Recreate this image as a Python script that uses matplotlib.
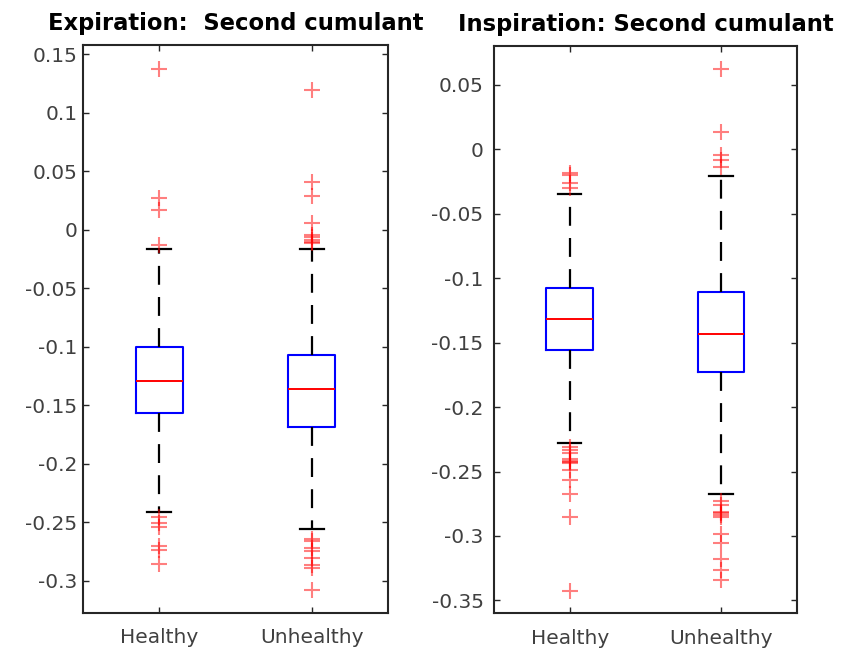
import matplotlib
matplotlib.use("Agg")
import matplotlib.pyplot as plt
import numpy as np

# ---------------- data ----------------
categories = ["Healthy", "Unhealthy"]
titles = ["Expiration:  Second cumulant", "Inspiration: Second cumulant"]

# Expiration
exp_med = [-0.129, -0.1362]
exp_q1 = [-0.157, -0.1684]
exp_q3 = [-0.1006, -0.1074]
exp_whislo = [-0.2416, -0.2558]
exp_whishi = [-0.0165, -0.0165]
exp_fliers_healthy = [0.1373, 0.0271, 0.0171, -0.0128,
                      -0.2456, -0.2507, -0.2541, -0.2707, -0.2741, -0.2855]
exp_fliers_unhealthy = [0.1197, 0.0413, 0.029, 0.0057, -0.0043, -0.0065,
                        -0.0085, -0.0105, -0.0114,
                        -0.2644, -0.2664, -0.2721, -0.275, -0.2806, -0.2863,
                        -0.2892, -0.3077]

# Inspiration
insp_med = [-0.1319, -0.1433]
insp_q1 = [-0.1557, -0.1725]
insp_q3 = [-0.1079, -0.1105]
insp_whislo = [-0.228, -0.2674]
insp_whishi = [-0.0347, -0.0205]
insp_fliers_healthy = [-0.0186, -0.02, -0.0259, -0.0303,
                       -0.2307, -0.2333, -0.2359, -0.2405, -0.2415, -0.2425,
                       -0.2436, -0.2488, -0.2566, -0.2674, -0.2855, -0.3424]
insp_fliers_unhealthy = [0.062, 0.0137, -0.0044, -0.0083, -0.0135,
                         -0.2726, -0.276, -0.2811, -0.2825, -0.2838, -0.285,
                         -0.2985, -0.3052, -0.3178, -0.3264, -0.3341]

exp_yticks = [-0.3, -0.25, -0.2, -0.15, -0.1, -0.05, 0, 0.05, 0.1, 0.15]
insp_yticks = [-0.35, -0.3, -0.25, -0.2, -0.15, -0.1, -0.05, 0, 0.05]

plt.rcParams["font.family"] = ["DejaVu Sans"]
tick_fs = 14.5
title_fs = 16.3
AX_COLOR = "#262626"
TICK_TEXT = "#404040"


def make_stats(med, q1, q3, lo, hi, fliers_list):
    stats = []
    for i in range(len(med)):
        stats.append(dict(med=med[i], q1=q1[i], q3=q3[i], whislo=lo[i],
                          whishi=hi[i], fliers=np.array(fliers_list[i]),
                          label=categories[i]))
    return stats


fig = plt.figure(figsize=(8.42, 6.52), dpi=100)
ax1 = fig.add_axes([83 / 842, 1 - 613 / 652, 305 / 842, 568 / 652])
ax2 = fig.add_axes([494 / 842, 1 - 613.3 / 652, 302.7 / 842, 567.3 / 652])

panels = [
    (ax1, make_stats(exp_med, exp_q1, exp_q3, exp_whislo, exp_whishi,
                     [exp_fliers_healthy, exp_fliers_unhealthy]),
     titles[0], exp_yticks, (-0.3276, 0.158), 4),
    (ax2, make_stats(insp_med, insp_q1, insp_q3, insp_whislo, insp_whishi,
                     [insp_fliers_healthy, insp_fliers_unhealthy]),
     titles[1], insp_yticks, (-0.36, 0.0801), 7.5),
]

for ax, stats, title, yticks, ylim, ypad in panels:
    ax.bxp(stats, positions=[1, 2], widths=0.31, capwidths=0.155,
           boxprops=dict(color="#0000ff", linewidth=1.5),
           medianprops=dict(color="#ff0000", linewidth=1.4),
           whiskerprops=dict(color="black", linewidth=1.6,
                             linestyle=(0, (8.5, 5.5))),
           capprops=dict(color="black", linewidth=1.6),
           flierprops=dict(marker="+", markersize=12, markeredgewidth=1.5,
                           markeredgecolor=(1, 0, 0, 0.5), linestyle="none"))
    ax.set_xlim(0.5, 2.5)
    ax.set_ylim(*ylim)
    ax.set_xticks([1, 2])
    ax.set_xticklabels(categories)
    ax.set_yticks(yticks)
    ax.set_yticklabels(["%g" % v for v in yticks])
    ax.tick_params(axis="both", direction="in", length=4, width=1.0,
                   colors=AX_COLOR, labelcolor=TICK_TEXT, labelsize=tick_fs,
                   top=True, right=True)
    ax.tick_params(axis="y", pad=ypad)
    ax.tick_params(axis="x", pad=11)
    for s in ax.spines.values():
        s.set_color(AX_COLOR)
        s.set_linewidth(1.5)
    ax.set_title(title, fontsize=title_fs, fontweight="bold", color="black",
                 pad=10.5)

fig.savefig("out.png", dpi=100)
